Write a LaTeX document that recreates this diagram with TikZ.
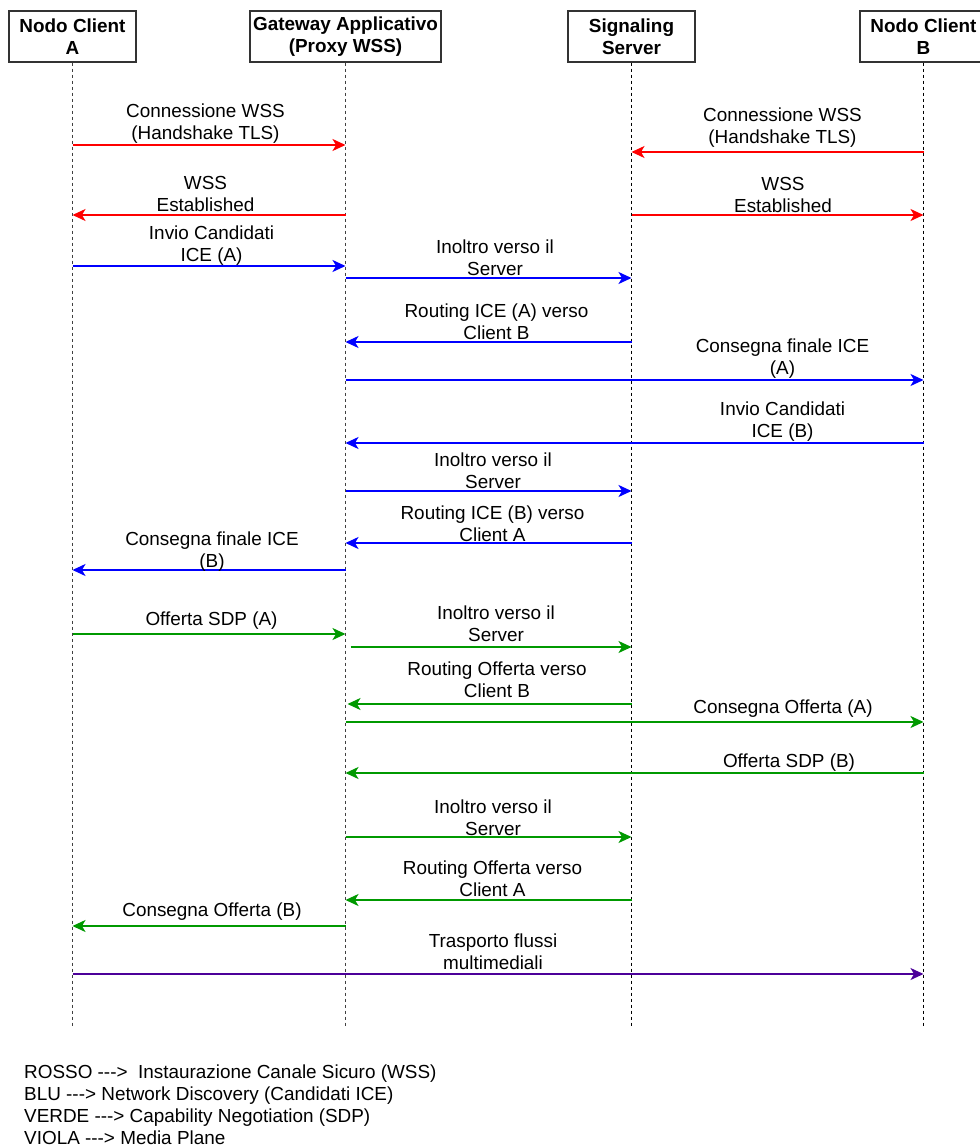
\documentclass[tikz,border=0pt]{standalone}
\usepackage{fontspec}
\setmainfont{Liberation Sans}[Ligatures=TeXOff]
\usetikzlibrary{arrows.meta}
\definecolor{wssred}{HTML}{FF0000}
\definecolor{iceblue}{HTML}{0000FF}
\definecolor{sdpgreen}{HTML}{009900}
\definecolor{mediaviolet}{HTML}{4C0099}
\tikzset{
  actor/.style={draw=black!80, line width=1.3pt, fill=white, minimum width=127pt,
    minimum height=51pt, inner sep=0pt, align=center,
    font=\bfseries\fontsize{18.9}{22}\selectfont},
  lifeline/.style={line width=1.3pt, dash pattern=on 3pt off 3pt},
  msg/.style={line width=1.5pt, -{Stealth[length=13pt,width=12pt,inset=3.5pt]}},
  lbl/.style={inner sep=0pt, align=center, font=\fontsize{18.9}{22}\selectfont},
  legend/.style={inner sep=0pt, anchor=base west, font=\fontsize{18.9}{22}\selectfont},
}
\begin{document}
\begin{tikzpicture}[x=1pt,y=-1pt]
\useasboundingbox (0,0) rectangle (979,1147);

% participants
\node[actor] (A) at (72.5,36.5) {Nodo Client\\A};
\node[actor, minimum width=191pt] (G) at (345.5,36.5) {Gateway Applicativo\\(Proxy WSS)};
\node[actor] (S) at (631.5,36.5) {Signaling\\Server};
\node[actor] (B) at (923.5,36.5) {Nodo Client\\B};

% lifelines
\coordinate (Aend) at (A.south |- 0,1027);
\coordinate (Gend) at (G.south |- 0,1027);
\coordinate (Send) at (S.south |- 0,1027);
\coordinate (Bend) at (B.south |- 0,1027);
\draw[lifeline, draw=black!75] (A) -- (Aend);
\draw[lifeline, draw=black!75] (G) -- (Gend);
\draw[lifeline, draw=black] (S) -- (Send);
\draw[lifeline, draw=black] (B) -- (Bend);

% secure channel (WSS)
\draw[msg, wssred] (A.south |- 0,145) -- (G.south |- 0,145);
\node[lbl] (l1) at (205.5,124) {Connessione WSS\\(Handshake TLS)};
\draw[msg, wssred] (B.south |- 0,152) -- (S.south |- 0,152);
\node[lbl] (l2) at (782.5,128) {Connessione WSS\\(Handshake TLS)};
\draw[msg, wssred] (G.south |- 0,215) -- (A.south |- 0,215);
\node[lbl] (l3) at (205.5,193.5) {WSS\\Established};
\draw[msg, wssred] (S.south |- 0,215) -- (B.south |- 0,215);
\node[lbl] (l4) at (783,194.5) {WSS\\Established};

% ICE candidates
\draw[msg, iceblue] (A.south |- 0,266) -- (G.south |- 0,266);
\node[lbl] (l5) at (211.5,245.5) {Invio Candidati\\ICE (A)};
\draw[msg, iceblue] (G.south |- 0,278) -- (S.south |- 0,278);
\node[lbl] (l6) at (495,257.5) {Inoltro verso il\\Server};
\draw[msg, iceblue] (S.south |- 0,342) -- (G.south |- 0,342);
\node[lbl] (l7) at (496.5,321.5) {Routing ICE (A) verso\\Client B};
\draw[msg, iceblue] (G.south |- 0,380) -- (B.south |- 0,380);
\node[lbl] (l8) at (782.5,359) {Consegna finale ICE\\(A)};
\draw[msg, iceblue] (B.south |- 0,443) -- (G.south |- 0,443);
\node[lbl] (l9) at (782.5,422) {Invio Candidati\\ICE (B)};
\draw[msg, iceblue] (G.south |- 0,491) -- (S.south |- 0,491);
\node[lbl] (l10) at (493,470.5) {Inoltro verso il\\Server};
\draw[msg, iceblue] (S.south |- 0,543) -- (G.south |- 0,543);
\node[lbl] (l11) at (492.5,523.5) {Routing ICE (B) verso\\Client A};
\draw[msg, iceblue] (G.south |- 0,570) -- (A.south |- 0,570);
\node[lbl] (l12) at (212,552) {Consegna finale ICE\\(B)};

% SDP offers
\draw[msg, sdpgreen] (A.south |- 0,634) -- (G.south |- 0,634);
\node[lbl] (l13) at (211.5,621) {Offerta SDP (A)};
\draw[msg, sdpgreen] ([xshift=5pt]G.south |- 0,647) -- (S.south |- 0,647);
\node[lbl] (l14) at (496,624) {Inoltro verso il\\Server};
\draw[msg, sdpgreen] (S.south |- 0,704) -- ([xshift=2pt]G.south |- 0,704);
\node[lbl] (l15) at (497,680) {Routing Offerta verso\\Client B};
\draw[msg, sdpgreen] (G.south |- 0,722) -- (B.south |- 0,722);
\node[lbl] (l16) at (783,709) {Consegna Offerta (A)};
\draw[msg, sdpgreen] (B.south |- 0,773) -- (G.south |- 0,773);
\node[lbl] (l17) at (789,763) {Offerta SDP (B)};
\draw[msg, sdpgreen] (G.south |- 0,837) -- (S.south |- 0,837);
\node[lbl] (l18) at (493,817.5) {Inoltro verso il\\Server};
\draw[msg, sdpgreen] (S.south |- 0,900) -- (G.south |- 0,900);
\node[lbl] (l19) at (492.5,879) {Routing Offerta verso\\Client A};
\draw[msg, sdpgreen] (G.south |- 0,926) -- (A.south |- 0,926);
\node[lbl] (l20) at (212,912) {Consegna Offerta (B)};

% media plane
\draw[msg, mediaviolet] (A.south |- 0,974) -- (B.south |- 0,974);
\node[lbl] (l21) at (493,952) {Trasporto flussi\\multimediali};

% colour legend
\node[legend] (k1) at (24,1078) {ROSSO --->\ \ Instaurazione Canale Sicuro (WSS)};
\node[legend] (k2) at (24,1100) {BLU ---> Network Discovery (Candidati ICE)};
\node[legend] (k3) at (24,1122) {VERDE ---> Capability Negotiation (SDP)};
\node[legend] (k4) at (24,1144) {VIOLA ---> Media Plane};
\end{tikzpicture}
\end{document}
